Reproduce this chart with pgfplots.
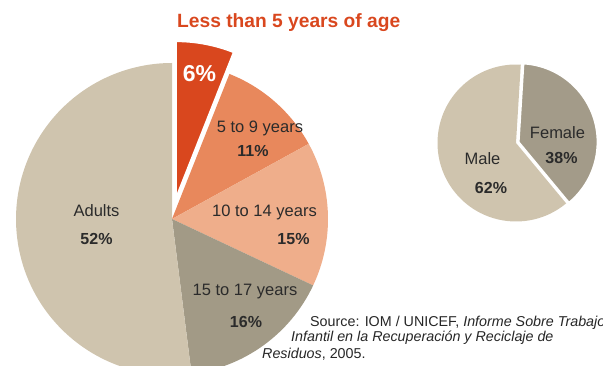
\documentclass[border=0pt]{standalone}
\usepackage{fontspec}
\setmainfont{Liberation Sans}
\usepackage{pgfplots}
\usepackage{pgfplotstable}
\pgfplotsset{compat=1.18}

\definecolor{titlered}{HTML}{D9471E}
\definecolor{labeltxt}{HTML}{2B2B2B}
\definecolor{agecol0}{HTML}{D9471E}
\definecolor{agecol1}{HTML}{E8885C}
\definecolor{agecol2}{HTML}{EFAE8B}
\definecolor{agecol3}{HTML}{A29A86}
\definecolor{agecol4}{HTML}{CFC4AE}
\definecolor{sexcol0}{HTML}{A39B89}
\definecolor{sexcol1}{HTML}{CFC4AE}

% share of workers, in percent, clockwise from the top
\pgfplotstableread{
label               value explode
{Less than 5 years} 6     22
{5 to 9 years}      11    0
{10 to 14 years}    15    0
{15 to 17 years}    16    0
Adults              52    0
}\agedata

\pgfplotstableread{
label  value explode
Female 38    3
Male   62    0
}\sexdata

% #1 table, #2/#3 centre (axis units), #4 radius, #5 start angle, #6 colour prefix
\newcommand{\drawpie}[6]{%
  \pgfplotstablegetrowsof{#1}%
  \pgfmathtruncatemacro{\lastrow}{\pgfplotsretval-1}%
  \xdef\pieangle{#5}%
  \foreach \i in {0,...,\lastrow}{%
    \pgfplotstablegetelem{\i}{value}\of{#1}%
    \let\val\pgfplotsretval
    \pgfplotstablegetelem{\i}{explode}\of{#1}%
    \let\ex\pgfplotsretval
    \pgfmathsetmacro{\angA}{\pieangle}%
    \pgfmathsetmacro{\angB}{\pieangle-3.6*\val}%
    \pgfmathsetmacro{\angM}{(\angA+\angB)/2}%
    \pgfmathsetmacro{\px}{#2+\ex*cos(\angM)}%
    \pgfmathsetmacro{\py}{#3+\ex*sin(\angM)}%
    \ifdim\ex pt>0pt
      \filldraw[fill=#6\i, draw=white, line width=1.5pt]
        (axis cs:\px,\py) -- ++(\angA:#4pt)
        arc[start angle=\angA, end angle=\angB, radius=#4pt] -- cycle;
    \else
      \fill[#6\i]
        (axis cs:\px,\py) -- ++(\angA:#4pt)
        arc[start angle=\angA, end angle=\angB, radius=#4pt] -- cycle;
    \fi
    \xdef\pieangle{\angB}%
  }%
}

\begin{document}
\begin{tikzpicture}
\useasboundingbox (0,0) rectangle (603pt,366pt);
\clip (0,0) rectangle (603pt,366pt);
\begin{axis}[
    at={(0pt,0pt)}, anchor=origin,
    x=1pt, y=1pt,
    xmin=0, xmax=603, ymin=0, ymax=366,
    hide axis,
]
\pgfplotsextra{\drawpie{\agedata}{172}{147}{156}{90}{agecol}}
\pgfplotsextra{\drawpie{\sexdata}{516}{223}{78.5}{86.5}{sexcol}}

% title
\node[anchor=base west, text=titlered, font=\fontsize{19.2}{22}\selectfont\bfseries, inner sep=0pt]
  at (axis cs:177,338) {Less than 5 years of age};

% big pie labels
\begin{scope}[every node/.style={anchor=base, inner sep=0pt, text=labeltxt, font=\fontsize{16.5}{19}\selectfont}]
\node[text=white, font=\fontsize{23}{26}\selectfont\bfseries] at (axis cs:199.5,284.3) {6\%};
\node at (axis cs:260,233) {5 to 9 years};
\node[font=\fontsize{16}{19}\selectfont\bfseries] at (axis cs:253,209) {11\%};
\node at (axis cs:264.5,149) {10 to 14 years};
\node[font=\fontsize{16}{19}\selectfont\bfseries] at (axis cs:293.5,121) {15\%};
\node at (axis cs:245,70) {15 to 17 years};
\node[font=\fontsize{16}{19}\selectfont\bfseries] at (axis cs:246,38) {16\%};
\node at (axis cs:96.5,149) {Adults};
\node[font=\fontsize{16}{19}\selectfont\bfseries] at (axis cs:96.5,121) {52\%};
% small pie labels
\node at (axis cs:482.5,201) {Male};
\node[font=\fontsize{16}{19}\selectfont\bfseries] at (axis cs:491,172) {62\%};
\node at (axis cs:557.5,227.7) {Female};
\node[font=\fontsize{16}{19}\selectfont\bfseries] at (axis cs:561.5,202.7) {38\%};
\end{scope}

% source note
\begin{scope}[every node/.style={anchor=base west, inner sep=0pt, text=black!85, font=\fontsize{14.3}{16}\selectfont}]
\node at (axis cs:310,39.3) {Source: IOM / UNICEF, \textit{Informe Sobre Trabajo}};
\node at (axis cs:291,24.3) {\textit{Infantil en la Recuperación y Reciclaje de}};
\node at (axis cs:262,7.7) {\textit{Residuos}, 2005.};
\end{scope}
\end{axis}
\end{tikzpicture}
\end{document}
